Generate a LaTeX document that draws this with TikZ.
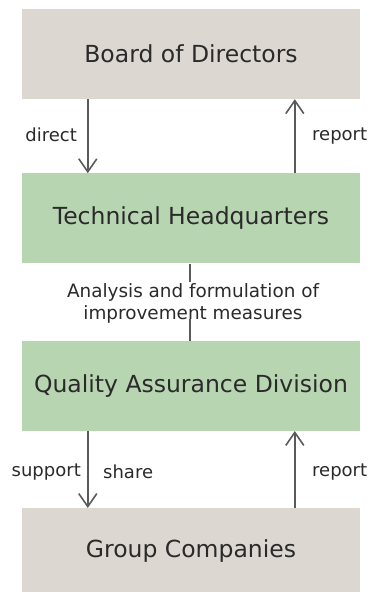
\documentclass[tikz,border=0pt]{standalone}
\usepackage{fontspec}
\setmainfont{DejaVu Sans}
\usepackage{xcolor}
\usepackage{tikz}
\usetikzlibrary{arrows.meta, positioning}

\definecolor{boxgray}{HTML}{DCD8D1}
\definecolor{boxgreen}{HTML}{B8D5B2}
\definecolor{linegray}{HTML}{5A5A5A}
\definecolor{textdark}{HTML}{2A2A2A}

\begin{document}
\begin{tikzpicture}[
    node distance=77pt,
    box/.style={rectangle, minimum width=338pt, minimum height=90pt, inner sep=0pt, text centered, text=textdark, font=\fontsize{23.5}{28}\selectfont},
    outer/.style={box, fill=boxgray},
    inner/.style={box, fill=boxgreen},
    arrow/.style={-{Straight Barb[length=13pt, width=18pt]}, line width=1.6pt, color=linegray},
    link/.style={line width=1.6pt, color=linegray},
    lbl/.style={font=\fontsize{18}{22}\selectfont, text=textdark, inner sep=0pt}
]
\useasboundingbox (0,0) rectangle (372pt,-592pt);

% Boxes
\node[outer] (board) at (191pt,-54pt) {Board of Directors};
\node[inner, below=74pt of board] (tech) {Technical Headquarters};
\node[inner, below=of tech] (qa) {Quality Assurance Division};
\node[outer, minimum height=85pt, below=of qa] (group) {Group Companies};

% Arrows board <-> tech
\draw[arrow] ([xshift=66pt]board.south west) -- ([xshift=66pt]tech.north west);
\draw[arrow] ([xshift=273pt]tech.north west) -- ([xshift=273pt]board.south west);

% Arrows qa <-> group
\draw[arrow] ([xshift=66pt]qa.south west) -- ([xshift=66pt]group.north west);
\draw[arrow] ([xshift=273pt]group.north west) -- ([xshift=273pt]qa.south west);

% Link tech -- qa
\node[lbl, font=\fontsize{18.4}{22}\selectfont, align=center] (note) at (193pt,-303pt) {Analysis and formulation of\\improvement measures};
\draw[link] (tech.south -| 190pt,0) -- (190pt,-282pt);
\draw[link] (190pt,-319pt) -- (qa.north -| 190pt,0);

% Labels
\node[lbl, anchor=east] (direct) at (77pt,-135pt) {direct};
\node[lbl, anchor=west] (rep1) at (312pt,-136pt) {report};
\node[lbl, anchor=east] (support) at (81pt,-472pt) {support};
\node[lbl, anchor=west] (share) at (103pt,-472pt) {share};
\node[lbl, anchor=west] (rep2) at (312pt,-472pt) {report};

\end{tikzpicture}
\end{document}
